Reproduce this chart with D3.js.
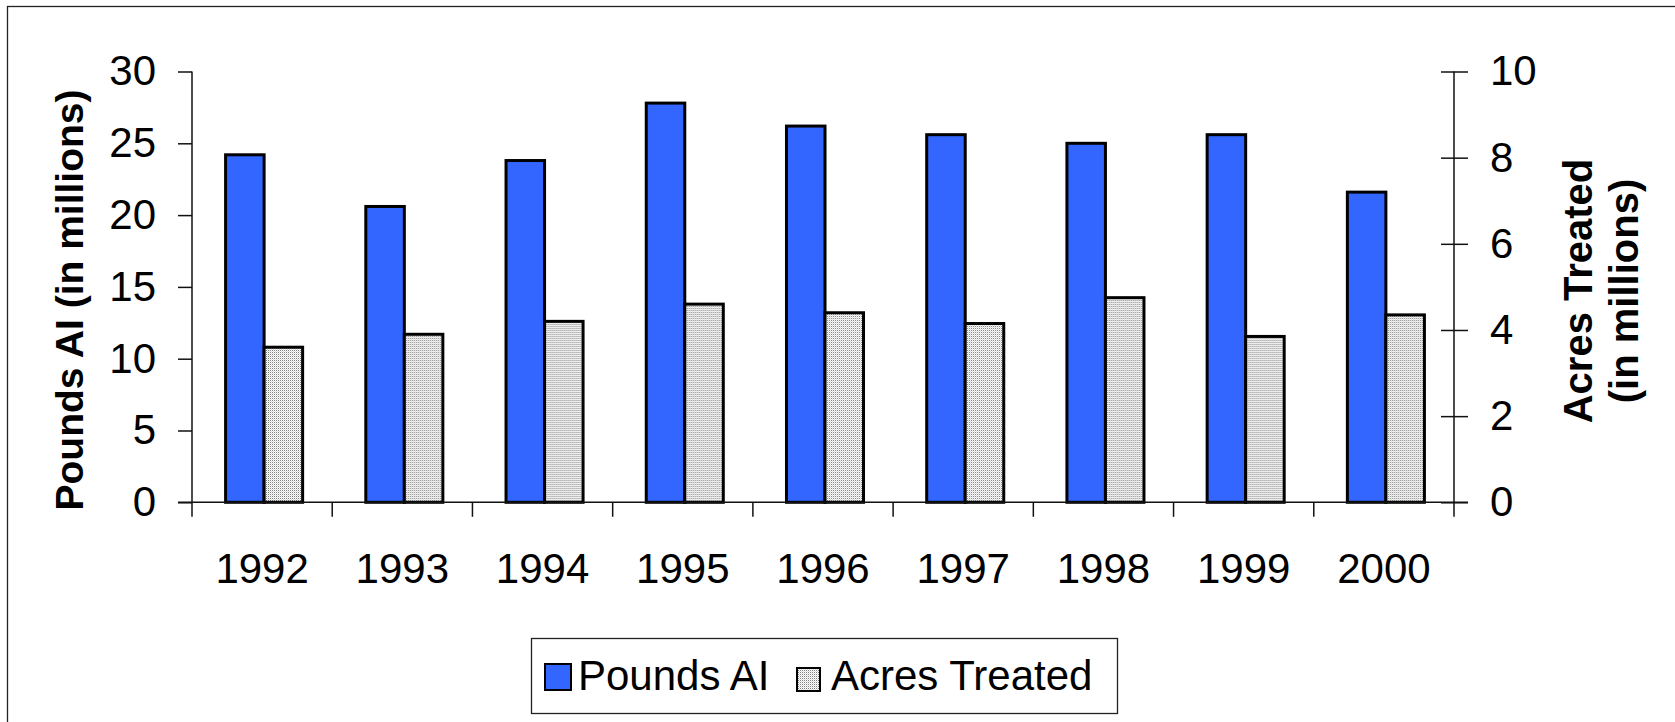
<!DOCTYPE html>
<html>
<head>
<meta charset="utf-8">
<script src="https://cdn.jsdelivr.net/npm/d3@7/dist/d3.min.js"></script>
<style>
  html, body { margin: 0; padding: 0; background: #fff; }
  svg { display: block; font-family: "Liberation Sans", Arial, sans-serif; }
</style>
</head>
<body>
<svg id="chart" width="1675" height="722"></svg>
<script>
// Data
const years = ['1992', '1993', '1994', '1995', '1996', '1997', '1998', '1999', '2000'];
const poundsAI = [24.2, 20.6, 23.8, 27.8, 26.2, 25.6, 25.0, 25.6, 21.6];
const acresTreated = [3.6, 3.9, 4.2, 4.6, 4.4, 4.15, 4.75, 3.85, 4.35];
const leftTicks = [0, 5, 10, 15, 20, 25, 30];
const rightTicks = [0, 2, 4, 6, 8, 10];
const seriesNames = ['Pounds AI', 'Acres Treated'];

const svg = d3.select('#chart');

// plot area (window.top is taken, so prefix these)
const plotLeft = 192, plotRight = 1454, plotTop = 71.5, plotBottom = 502.3;

// pattern for the dotted grey bars
const defs = svg.append('defs');
const pat = defs.append('pattern')
  .attr('id', 'dots')
  .attr('width', 2).attr('height', 2)
  .attr('patternUnits', 'userSpaceOnUse');
pat.append('rect').attr('width', 2).attr('height', 2).attr('fill', '#fff');
pat.append('rect').attr('width', 1).attr('height', 1).attr('fill', '#808080');
pat.append('rect').attr('x', 1).attr('y', 1).attr('width', 1).attr('height', 1).attr('fill', '#dadada');

const fills = { 'Pounds AI': '#3366ff', 'Acres Treated': 'url(#dots)' };

// outer frame
svg.append('rect')
  .attr('x', 7.5).attr('y', 6.5)
  .attr('width', 1680).attr('height', 740)
  .attr('fill', 'none')
  .attr('stroke', '#222')
  .attr('stroke-width', 1.3);

// scales
const x0 = d3.scaleBand().domain(years).range([plotLeft, plotRight]).padding(0);
const x1 = d3.scaleBand().domain(seriesNames).range([0, x0.bandwidth()]).paddingInner(0).paddingOuter(0.82);
const yLeft = d3.scaleLinear().domain([0, 30]).range([plotBottom, plotTop]);
const yRight = d3.scaleLinear().domain([0, 10]).range([plotBottom, plotTop]);

// bars
const groups = svg.append('g').selectAll('g')
  .data(years)
  .join('g')
  .attr('transform', d => 'translate(' + (x0(d) + 2) + ',0)');

groups.append('rect')
  .attr('x', x1('Pounds AI'))
  .attr('width', x1.bandwidth())
  .attr('y', (d, i) => yLeft(poundsAI[i]))
  .attr('height', (d, i) => plotBottom - yLeft(poundsAI[i]))
  .attr('fill', fills['Pounds AI'])
  .attr('stroke', '#000')
  .attr('stroke-width', 3);

groups.append('rect')
  .attr('x', x1('Acres Treated'))
  .attr('width', x1.bandwidth())
  .attr('y', (d, i) => yRight(acresTreated[i]))
  .attr('height', (d, i) => plotBottom - yRight(acresTreated[i]))
  .attr('fill', fills['Acres Treated'])
  .attr('stroke', '#000')
  .attr('stroke-width', 3);

// left axis
const gLeft = svg.append('g')
  .attr('transform', 'translate(' + plotLeft + ',0)')
  .call(d3.axisLeft(yLeft).tickValues(leftTicks).tickSize(14).tickPadding(22));
gLeft.select('.domain').remove();

// right axis, ticks cross the line
const gRight = svg.append('g')
  .attr('transform', 'translate(' + plotRight + ',0)')
  .call(d3.axisRight(yRight).tickValues(rightTicks).tickSize(14).tickPadding(22));
gRight.select('.domain').remove();
gRight.selectAll('.tick line').attr('x1', -13);

// bottom axis labels
const gBottom = svg.append('g')
  .attr('transform', 'translate(0,' + plotBottom + ')')
  .call(d3.axisBottom(x0).tickSize(0).tickPadding(51));
gBottom.select('.domain').remove();

svg.selectAll('.tick text')
  .attr('font-size', 42)
  .attr('font-family', '"Liberation Sans", Arial, sans-serif')
  .attr('fill', '#000');
svg.selectAll('.tick line').attr('stroke', '#111').attr('stroke-width', 1.5);

// axis lines
const axisLines = svg.append('g').attr('stroke', '#111').attr('stroke-width', 1.5);
axisLines.append('line').attr('x1', plotLeft).attr('x2', plotLeft).attr('y1', plotTop).attr('y2', plotBottom + 14.5);
axisLines.append('line').attr('x1', plotRight).attr('x2', plotRight).attr('y1', plotTop).attr('y2', plotBottom + 14.5);
axisLines.append('line').attr('x1', plotLeft - 14).attr('x2', plotRight + 14).attr('y1', plotBottom).attr('y2', plotBottom);

// category boundary ticks
axisLines.selectAll('line.cat')
  .data(years.slice(1))
  .join('line')
  .attr('class', 'cat')
  .attr('x1', d => x0(d)).attr('x2', d => x0(d))
  .attr('y1', plotBottom).attr('y2', plotBottom + 14.5);

// axis titles
svg.append('text')
  .attr('transform', 'translate(83,300) rotate(-90)')
  .attr('text-anchor', 'middle')
  .attr('font-size', 39)
  .attr('font-weight', 'bold')
  .text('Pounds AI (in millions)');

const rTitle = svg.append('text')
  .attr('transform', 'translate(1592,291) rotate(-90)')
  .attr('text-anchor', 'middle')
  .attr('font-size', 40)
  .attr('font-weight', 'bold');
rTitle.append('tspan').attr('x', 0).attr('y', 0).text('Acres Treated');
rTitle.append('tspan').attr('x', 0).attr('y', 46).text('(in millions)');

// legend
const legend = svg.append('g');
legend.append('rect')
  .attr('x', 531.5).attr('y', 638.5)
  .attr('width', 586).attr('height', 75)
  .attr('fill', '#fff')
  .attr('stroke', '#222')
  .attr('stroke-width', 1.3);

const legendItems = [
  { name: seriesNames[0], sx: 545, sy: 664, size: 26, tx: 578 },
  { name: seriesNames[1], sx: 797, sy: 668, size: 23, tx: 831 }
];
legend.selectAll('rect.sw')
  .data(legendItems)
  .join('rect')
  .attr('class', 'sw')
  .attr('x', d => d.sx).attr('y', d => d.sy)
  .attr('width', d => d.size).attr('height', d => d.size)
  .attr('fill', d => fills[d.name])
  .attr('stroke', '#000')
  .attr('stroke-width', 2);
legend.selectAll('text')
  .data(legendItems)
  .join('text')
  .attr('x', d => d.tx).attr('y', 690)
  .attr('font-size', 42)
  .text(d => d.name);
</script>
</body>
</html>
